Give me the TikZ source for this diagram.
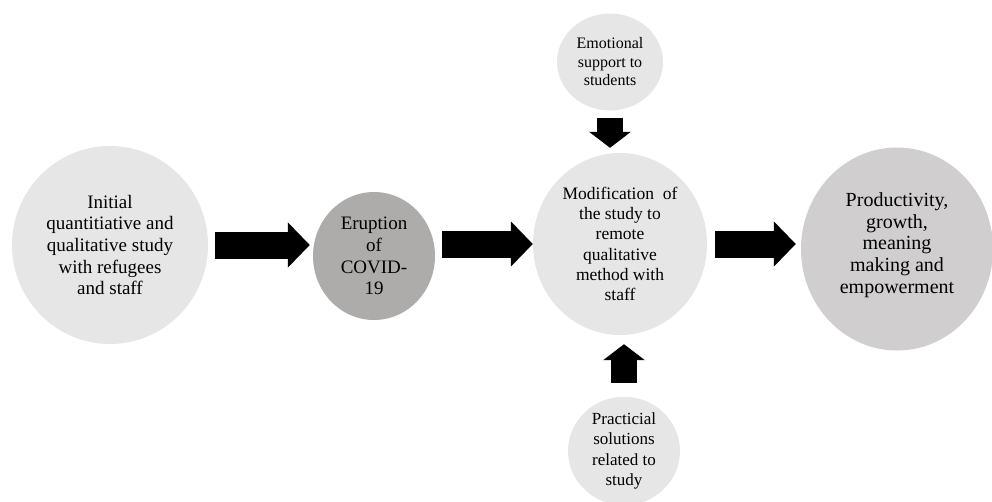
\documentclass[tikz,border=0pt]{standalone}
\usepackage{fontspec}
\setmainfont{Liberation Serif}
\newfontfamily\stagefont{Liberation Serif}
\usetikzlibrary{shapes.geometric,arrows.meta}
\definecolor{lightgrey}{HTML}{E7E6E6}
\definecolor{midgrey}{HTML}{D0CECE}
\definecolor{darkgrey}{HTML}{AEABAB}

\begin{document}
\begin{tikzpicture}[
    x=1pt, y=-1pt,
    stage/.style={ellipse, fill=lightgrey, inner sep=0pt, align=center, text=black},
    bigarrow/.style={line width=27pt, -{Triangle[width=44pt,length=22pt]}},
    smallarrow/.style={line width=26pt, -{Triangle[width=41pt,length=16pt]}}
]
    \useasboundingbox (0,0) rectangle (992,501);

    % Stages of the study
    \node[stage, minimum width=196pt, minimum height=198pt, font=\stagefont\fontsize{19}{21.7}\selectfont] (initial) at (110,245) {Initial\\quantitiative and\\qualitative study\\with refugees\\and staff};
    \node[stage, fill=darkgrey, minimum width=122pt, minimum height=128pt, font=\stagefont\fontsize{19}{21.7}\selectfont] (covid) at (374,256) {Eruption\\of\\COVID-\\19};
    \node[stage, minimum width=174pt, minimum height=182pt, font=\stagefont\fontsize{17.5}{20.2}\selectfont] (modify) at (620,244) {Modification~ of\\the study to\\remote\\qualitative\\method with\\staff};
    \node[stage, fill=midgrey, minimum width=192pt, minimum height=203pt, text depth=12pt, font=\stagefont\fontsize{20}{21.7}\selectfont] (outcome) at (897,249) {Productivity,\\growth,\\meaning\\making and\\empowerment};

    % Supporting factors
    \node[stage, minimum width=106pt, minimum height=97pt, font=\stagefont\fontsize{16}{18.5}\selectfont] (support) at (610,62) {Emotional\\support to\\students};
    \node[stage, minimum width=112pt, minimum height=108pt, font=\stagefont\fontsize{17}{20.4}\selectfont] (solutions) at (624,451) {Practicial\\solutions\\related to\\study};

    % Block arrows
    \draw[bigarrow, shorten <=7pt, shorten >=3pt] (initial.east) -- (initial.east -| covid.west);
    \draw[bigarrow, shorten <=7pt] (covid.east |- modify.west) -- (modify.west);
    \draw[bigarrow, shorten <=8pt, shorten >=5pt] (modify.east) -- (modify.east -| outcome.west);
    \draw[smallarrow, shorten <=7pt, shorten >=5pt] (support.south) -- (support.south |- modify.north);
    \draw[smallarrow, shorten <=14pt, shorten >=9pt] (solutions.north) -- (solutions.north |- modify.south);
\end{tikzpicture}
\end{document}
